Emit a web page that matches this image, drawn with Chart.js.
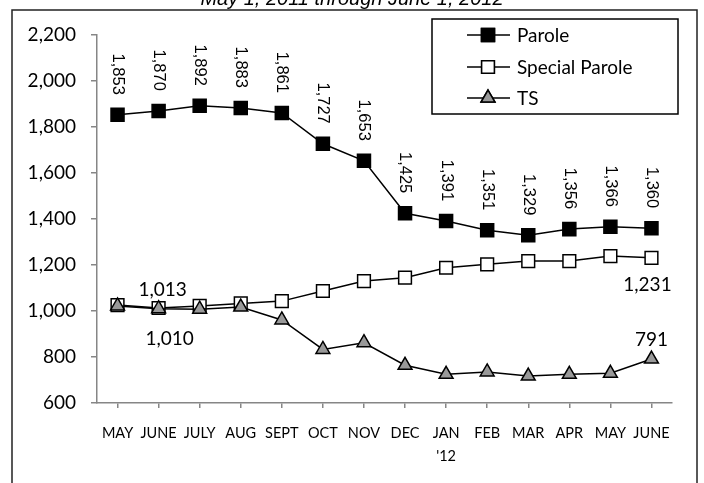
<!DOCTYPE html>
<html>
<head>
<meta charset="utf-8">
<script src="https://cdn.jsdelivr.net/npm/chart.js@4/dist/chart.umd.min.js"></script>
<style>
  body { margin: 0; background: #fff; }
  #wrap { position: relative; width: 704px; height: 483px; }
</style>
</head>
<body>
<div id="wrap"><canvas id="myChart"></canvas></div>
<script>
//  Data
const months = ['MAY', 'JUNE', 'JULY', 'AUG', 'SEPT', 'OCT', 'NOV', 'DEC', ['JAN', "'12"], 'FEB', 'MAR', 'APR', 'MAY', 'JUNE'];
const parole        = [1853, 1870, 1892, 1883, 1861, 1727, 1653, 1425, 1391, 1351, 1329, 1356, 1366, 1360];
const specialParole = [1026, 1013, 1022, 1033, 1043, 1087, 1130, 1145, 1188, 1203, 1217, 1217, 1239, 1231];
const ts            = [1022, 1010, 1008, 1017, 961, 833, 862, 764, 725, 735, 717, 725, 729, 791];
const yTicks        = [600, 800, 1000, 1200, 1400, 1600, 1800, 2000, 2200];
const titleText     = 'May 1, 2011 through June 1, 2012';

const fmt = v => v.toLocaleString('en-US');

//  single value callouts on the two lower lines: dataset, index, offset
const callouts = [
    { ds: 1, i: 1,  dx: 4,  dy: -18 },
    { ds: 2, i: 1,  dx: 11, dy: 30 },
    { ds: 1, i: 13, dx: -4, dy: 27 },
    { ds: 2, i: 13, dx: 0,  dy: -19 }
];

//  frame, title, legend and value labels
const decorPlugin = {
    id: 'decor',
    beforeDraw(chart) {
        const ctx = chart.ctx;
        ctx.save();
        ctx.strokeStyle = '#222';
        ctx.lineWidth = 1.5;
        ctx.strokeRect(12, 10, 685, 600);
        ctx.font = 'italic 20px "Liberation Sans", Arial, sans-serif';
        ctx.fillStyle = '#000';
        ctx.textAlign = 'center';
        ctx.textBaseline = 'alphabetic';
        ctx.fillText(titleText, 352, 5);
        ctx.restore();
    },
    afterDatasetsDraw(chart) {
        const ctx = chart.ctx;
        ctx.save();
        ctx.fillStyle = '#000';

        //  rotated labels on Parole
        ctx.font = '16.5px "Liberation Sans", Arial, sans-serif';
        chart.getDatasetMeta(0).data.forEach((pt, i) => {
            ctx.save();
            ctx.translate(pt.x, pt.y - 20);
            ctx.rotate(Math.PI / 2);
            ctx.textAlign = 'right';
            ctx.textBaseline = 'middle';
            ctx.fillText(fmt(parole[i]), 0, 0);
            ctx.restore();
        });

        //  callouts
        ctx.font = '19px Lato, sans-serif';
        ctx.textAlign = 'center';
        ctx.textBaseline = 'middle';
        callouts.forEach(c => {
            const pt = chart.getDatasetMeta(c.ds).data[c.i];
            ctx.fillText(fmt(chart.data.datasets[c.ds].data[c.i]), pt.x + c.dx, pt.y + c.dy);
        });

        //  legend box
        ctx.strokeStyle = '#000';
        ctx.lineWidth = 1.5;
        ctx.fillStyle = '#fff';
        ctx.fillRect(432, 19, 246, 95);
        ctx.strokeRect(432, 19, 246, 95);
        const rows = [35, 67, 98];
        chart.data.datasets.forEach((ds, k) => {
            const y = rows[k];
            ctx.strokeStyle = '#000';
            ctx.lineWidth = 1.5;
            ctx.beginPath();
            ctx.moveTo(467, y);
            ctx.lineTo(510, y);
            ctx.stroke();
            Chart.helpers.drawPoint(ctx, {
                pointStyle: ds.pointStyle,
                radius: ds.pointRadius,
                borderWidth: ds.pointBorderWidth
            }, 488, y);
            ctx.fillStyle = ds.pointBackgroundColor;
            ctx.strokeStyle = '#000';
            ctx.fill();
            ctx.stroke();
            ctx.fillStyle = '#000';
            ctx.font = '19px Lato, sans-serif';
            ctx.textAlign = 'left';
            ctx.textBaseline = 'middle';
            ctx.fillText(ds.label, 517, y + 1);
        });
        ctx.restore();
    }
};

const config = {
    type: 'line',
    data: {
        labels: months,
        datasets: [
            {
                label: 'Parole',
                data: parole,
                borderColor: '#000',
                borderWidth: 1.5,
                pointStyle: 'rect',
                pointRadius: 9.2,
                pointBorderWidth: 1.5,
                pointBackgroundColor: '#000',
                pointBorderColor: '#000',
                order: 0
            },
            {
                label: 'Special Parole',
                data: specialParole,
                borderColor: '#000',
                borderWidth: 1.5,
                pointStyle: 'rect',
                pointRadius: 9,
                pointBorderWidth: 1.5,
                pointBackgroundColor: '#fff',
                pointBorderColor: '#000',
                order: 2
            },
            {
                label: 'TS',
                data: ts,
                borderColor: '#000',
                borderWidth: 1.5,
                pointStyle: 'triangle',
                pointRadius: 8,
                pointBorderWidth: 1.5,
                pointBackgroundColor: '#999',
                pointBorderColor: '#000',
                order: 1
            }
        ]
    },
    options: {
        responsive: true,
        maintainAspectRatio: false,
        animation: false,
        layout: { padding: { top: 35, right: 32, left: 0, bottom: 0 } },
        plugins: {
            legend: { display: false },
            tooltip: { enabled: false }
        },
        scales: {
            x: {
                offset: true,
                afterFit: s => { s.height = 80; },
                grid: { drawOnChartArea: false, color: '#868686', tickLength: 5, lineWidth: 1.5 },
                border: { color: '#868686', width: 1.5 },
                ticks: {
                    color: '#000',
                    padding: 14,
                    maxRotation: 0,
                    autoSkip: false,
                    font: { family: 'Lato', size: 14.5, lineHeight: 1.6 }
                }
            },
            y: {
                min: 600,
                max: 2200,
                afterFit: s => { s.width = 97; },
                afterBuildTicks: s => { s.ticks = yTicks.map(v => ({ value: v })); },
                grid: { drawOnChartArea: false, color: '#868686', tickLength: 6, lineWidth: 1.5 },
                border: { color: '#868686', width: 1.5 },
                ticks: {
                    color: '#000',
                    padding: 15,
                    callback: v => fmt(v),
                    font: { family: 'Lato', size: 19 }
                }
            }
        }
    },
    plugins: [decorPlugin]
};

let myChart = new Chart(document.getElementById('myChart'), config);
</script>
</body>
</html>
